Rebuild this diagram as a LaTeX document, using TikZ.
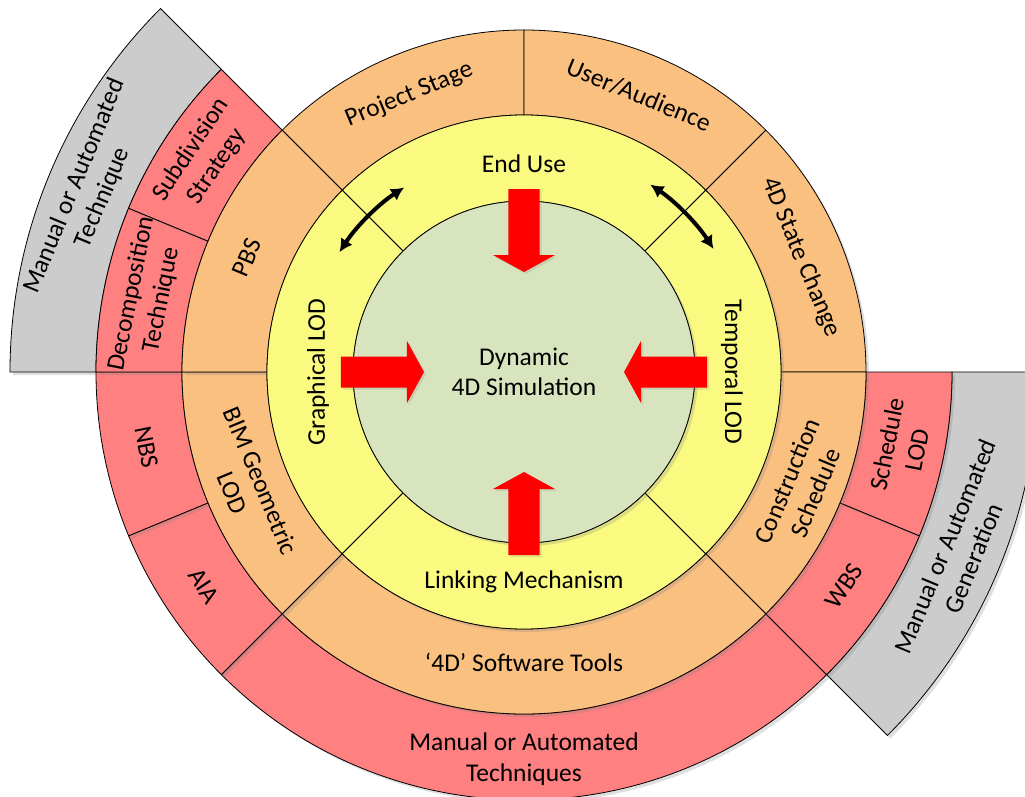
\documentclass[tikz,border=0pt]{standalone}
\usepackage{fontspec}
\setmainfont{Carlito}
\usetikzlibrary{arrows.meta,shadows}
\definecolor{cgreen}{HTML}{D7E4BD}
\definecolor{cyellow}{HTML}{FAFA80}
\definecolor{corange}{HTML}{FAC080}
\definecolor{cred}{HTML}{FF8080}
\definecolor{cgray}{HTML}{CCCCCC}
\definecolor{carrow}{HTML}{FF0000}
\newcommand\annsec[5]{%
  \path[#5] (#1:#3) arc[start angle=#1, end angle=#2, radius=#3] -- (#2:#4) arc[start angle=#2, end angle=#1, radius=#4] -- cycle;}
\newcommand\blockarrow[1]{%
  \fill[carrow, rotate=#1, drop shadow={shadow xshift=2pt, shadow yshift=-2pt, opacity=0.2}] (183pt,15.5pt) -- (117pt,15.5pt) -- (117pt,31pt) -- (100pt,0pt) -- (117pt,-31pt) -- (117pt,-15.5pt) -- (183pt,-15.5pt) -- cycle;}
\tikzset{
  seg/.style={draw=black, line width=0.8pt, drop shadow={shadow xshift=3pt, shadow yshift=-3pt, opacity=0.25}},
  lbl/.style={font=\fontsize{25.5}{30.5}\selectfont, align=center, text=black, inner sep=0pt},
  bidir/.style={line width=4pt, {Latex[length=13pt,width=14pt]}-{Latex[length=13pt,width=14pt]}}
}
\begin{document}
\begin{tikzpicture}
\useasboundingbox (-524pt,-424pt) rectangle (501pt,372pt);
% gray ring
\annsec{135}{180}{428pt}{514pt}{seg, fill=cgray}
\annsec{315}{360}{428pt}{514pt}{seg, fill=cgray}
% red ring
\annsec{225}{315}{342pt}{428pt}{seg, fill=cred}
\annsec{202.5}{225}{342pt}{428pt}{seg, fill=cred}
\annsec{180}{202.5}{342pt}{428pt}{seg, fill=cred}
\annsec{157.5}{180}{342pt}{428pt}{seg, fill=cred}
\annsec{135}{157.5}{342pt}{428pt}{seg, fill=cred}
\annsec{315}{337.5}{342pt}{428pt}{seg, fill=cred}
\annsec{337.5}{360}{342pt}{428pt}{seg, fill=cred}
% orange ring
\annsec{90}{135}{257pt}{342pt}{seg, fill=corange}
\annsec{45}{90}{257pt}{342pt}{seg, fill=corange}
\annsec{0}{45}{257pt}{342pt}{seg, fill=corange}
\annsec{315}{360}{257pt}{342pt}{seg, fill=corange}
\annsec{225}{315}{257pt}{342pt}{seg, fill=corange}
\annsec{180}{225}{257pt}{342pt}{seg, fill=corange}
\annsec{135}{180}{257pt}{342pt}{seg, fill=corange}
% yellow ring
\annsec{45}{135}{171pt}{257pt}{seg, fill=cyellow}
\annsec{135}{225}{171pt}{257pt}{seg, fill=cyellow}
\annsec{225}{315}{171pt}{257pt}{seg, fill=cyellow}
\annsec{315}{405}{171pt}{257pt}{seg, fill=cyellow}
% centre
\path[seg, fill=cgreen] (0,0) circle[radius=171pt];
% red block arrows
\blockarrow{90}
\blockarrow{180}
\blockarrow{270}
\blockarrow{0}
% black curved double arrows
\draw[bidir] (123:220pt) arc[start angle=123, end angle=147, radius=220pt];
\draw[bidir] (33:226pt) arc[start angle=33, end angle=56, radius=226pt];
% labels
\node[lbl] (dyn) at (0pt,0pt) {Dynamic\\4D Simulation};
\node[lbl] (eu) at (90:208pt) {End Use};
\node[lbl, rotate=90] (glod) at (180:206pt) {Graphical LOD};
\node[lbl, rotate=-90] (tlod) at (0:208pt) {Temporal LOD};
\node[lbl] (lm) at (270:210pt) {Linking Mechanism};
\node[lbl, rotate=22.5] (ps) at (112.5:300pt) {Project Stage};
\node[lbl, rotate=-22.5] (ua) at (67.5:300pt) {User/Audience};
\node[lbl, rotate=-67.5] (sc) at (22.5:300pt) {4D State Change};
\node[lbl, rotate=67.5] (cs) at (-22.5:300pt) {Construction\\Schedule};
\node[lbl] (st) at (270:290pt) {‘4D’ Software Tools};
\node[lbl, rotate=-67.5] (bim) at (202.5:300pt) {BIM Geometric\\LOD};
\node[lbl, rotate=67.5] (pbs) at (157.5:300pt) {PBS};
\node[lbl, rotate=56.25] (sub) at (146.25:385pt) {Subdivision\\Strategy};
\node[lbl, rotate=78.75] (dec) at (168.75:385pt) {Decomposition\\Technique};
\node[lbl, rotate=-78.75] (nbs) at (191.25:385pt) {NBS};
\node[lbl, rotate=-56.25] (aia) at (213.75:385pt) {AIA};
\node[lbl] (mat) at (270:387pt) {Manual or Automated\\Techniques};
\node[lbl, rotate=56.25] (wbs) at (326.25:385pt) {WBS};
\node[lbl, rotate=78.75] (slod) at (348.75:385pt) {Schedule\\LOD};
\node[lbl, rotate=67.5] (g1) at (157.5:471pt) {Manual or Automated\\Technique};
\node[lbl, rotate=67.5] (g2) at (337.5:471pt) {Manual or Automated\\Generation};
\end{tikzpicture}
\end{document}
